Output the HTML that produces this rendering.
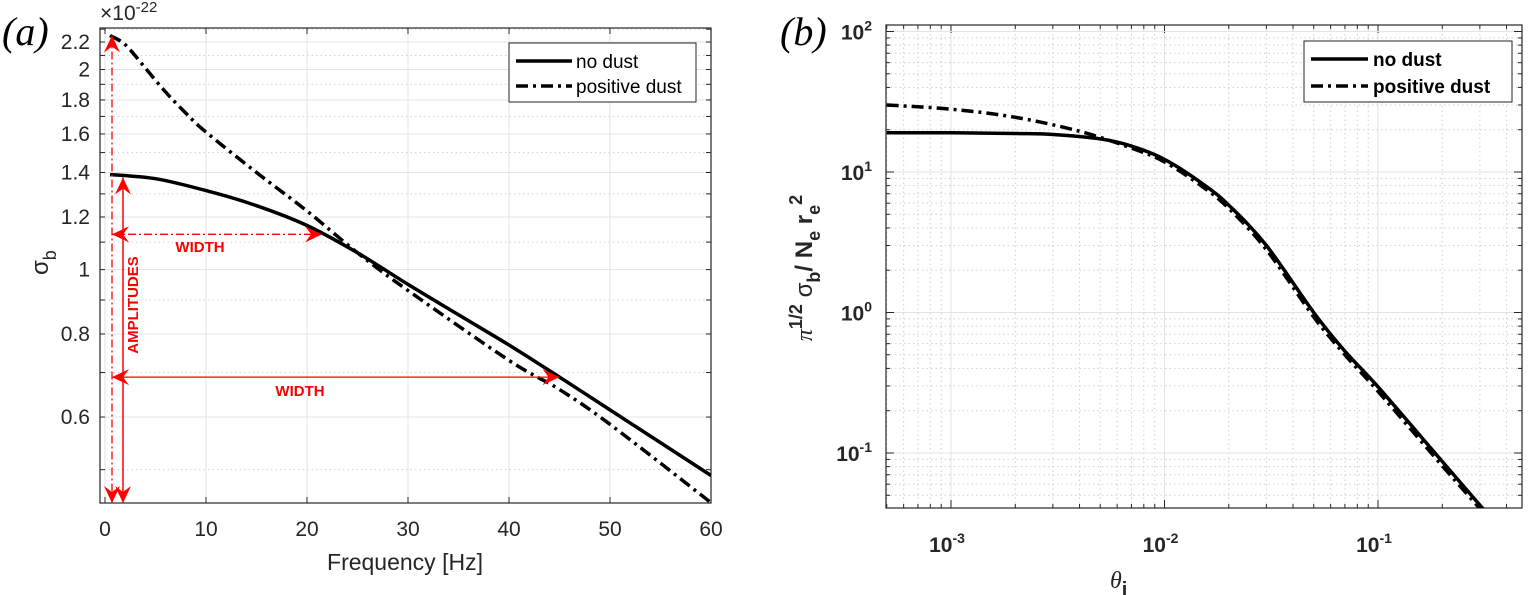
<!DOCTYPE html>
<html><head><meta charset="utf-8"><style>
body{margin:0;background:#fff}
svg{display:block;font-family:"Liberation Sans",sans-serif}
</style></head><body>
<svg id="s" width="1528" height="595" viewBox="0 0 1528 595">
<defs><clipPath id="cb"><rect x="886" y="25" width="636" height="483"/></clipPath>
<clipPath id="ca"><rect x="100" y="28" width="611" height="475"/></clipPath></defs>
<g id="ga"></g>
<g id="gb"></g>
</svg>
<script>
// Panel (a) data
const aFreqSolid=[0.5,5,10,15,20,25,30,35,40,45,50,60];
const aNoDust=[1.39,1.37,1.315,1.248,1.165,1.06,0.95,0.855,0.77,0.689,0.615,0.49];
const aFreqDash=[0.5,2,4,6,8,10,15,20,25,30,40,45,50,60];
const aPosDust=[2.25,2.18,2.01,1.85,1.72,1.61,1.40,1.225,1.06,0.93,0.73,0.66,0.585,0.446];
const aXTicks=[0,10,20,30,40,50,60];
const aYTicks=[0.6,0.8,1,1.2,1.4,1.6,1.8,2,2.2];
const aYTickLabels=["0.6","0.8","1","1.2","1.4","1.6","1.8","2","2.2"];
// Panel (b) data
const bTheta=[5e-4,1e-3,2e-3,3e-3,5e-3,7e-3,0.01,0.015,0.02,0.03,0.05,0.07,0.1,0.2,0.32];
const bNoDust=[19,19,18.8,18.5,17.2,15.3,12.3,8.3,5.8,3.0,1.0,0.53,0.296,0.087,0.038];
const bThetaD=[5e-4,1e-3,2e-3,4e-3,7e-3,0.01,0.015,0.02,0.03,0.05,0.07,0.1,0.2,0.31];
const bPosDust=[30,28,24.5,19.5,14.8,11.8,7.9,5.5,2.8,0.93,0.5,0.275,0.081,0.038];
const bXTicks=[-3,-2,-1];
const bYTicks=[-1,0,1,2];

const NS="http://www.w3.org/2000/svg";
function mk(p,t,at,txt){const e=document.createElementNS(NS,t);for(const k in at)e.setAttribute(k,at[k]);if(txt!==undefined)e.textContent=txt;p.appendChild(e);return e;}
function smooth(pts){let d='M'+pts[0][0].toFixed(1)+','+pts[0][1].toFixed(1);
 for(let i=0;i<pts.length-1;i++){const p0=pts[Math.max(0,i-1)],p1=pts[i],p2=pts[i+1],p3=pts[Math.min(pts.length-1,i+2)];
  const c1=[p1[0]+(p2[0]-p0[0])/6,p1[1]+(p2[1]-p0[1])/6],c2=[p2[0]-(p3[0]-p1[0])/6,p2[1]-(p3[1]-p1[1])/6];
  d+='C'+c1.map(v=>v.toFixed(1)).join(',')+' '+c2.map(v=>v.toFixed(1)).join(',')+' '+p2.map(v=>v.toFixed(1)).join(',');}
 return d;}

// ---- Panel a
const ga=document.getElementById('ga');
const AL=100,AR=711,AT=28,AB=503;
const ax=f=>105+(f)*(711-105)/60;
const ay=v=>269.6-Math.log10(v)*664.6;
for(let v=0.5;v<=2.31;v+=0.1){const isMaj=aYTicks.some(t=>Math.abs(t-v)<1e-6);
 const l=mk(ga,'line',{x1:AL,x2:AR,y1:ay(v),y2:ay(v),stroke:isMaj?'#e3e3e3':'#d0d0d0','stroke-width':1,'stroke-dasharray':isMaj?'':'1.5 3'});
 }
aXTicks.forEach(t=>{const l=mk(ga,'line',{x1:ax(t),x2:ax(t),y1:AT,y2:AB,stroke:'#e3e3e3'});
 });
const ab=mk(ga,'rect',{x:AL,y:AT,width:AR-AL,height:AB-AT,fill:'none',stroke:'#262626','stroke-width':1.2});

aXTicks.forEach(t=>{mk(ga,'line',{x1:ax(t),x2:ax(t),y1:AB,y2:AB-6,stroke:'#262626'});mk(ga,'line',{x1:ax(t),x2:ax(t),y1:AT,y2:AT+6,stroke:'#262626'});
 const tx=mk(ga,'text',{x:ax(t),y:536,'font-size':21,'text-anchor':'middle',fill:'#262626'},String(t));
 });
for(let v=0.5;v<=2.31;v+=0.1){mk(ga,'line',{x1:AL,x2:AL+5,y1:ay(v),y2:ay(v),stroke:'#262626'});mk(ga,'line',{x1:AR,x2:AR-5,y1:ay(v),y2:ay(v),stroke:'#262626'});}
aYTicks.forEach((t,i)=>{const tx=mk(ga,'text',{x:90,y:ay(t)+7,'font-size':21,'text-anchor':'end',fill:'#262626'},aYTickLabels[i]);
 });
const s1=mk(ga,'path',{d:smooth(aFreqSolid.map((x,i)=>[ax(x),ay(aNoDust[i])])),fill:'none',stroke:'#000','stroke-width':3.5,'clip-path':'url(#ca)'});

const s2=mk(ga,'path',{d:smooth(aFreqDash.map((x,i)=>[ax(x),ay(aPosDust[i])])),fill:'none',stroke:'#000','stroke-width':3.5,'stroke-dasharray':'12 5 3 5','clip-path':'url(#ca)'});

const red='#ff0000';
function arrowHead(x,y,dir){const s=13,w=8;let pts;
 if(dir==='up')pts=[[x,y],[x-w,y+s+4],[x,y+s-2],[x+w,y+s+4]];
 if(dir==='down')pts=[[x,y],[x-w,y-s-4],[x,y-s+2],[x+w,y-s-4]];
 if(dir==='left')pts=[[x,y],[x+s+4,y-w],[x+s-2,y],[x+s+4,y+w]];
 if(dir==='right')pts=[[x,y],[x-s-4,y-w],[x-s+2,y],[x-s-4,y+w]];
 const p=mk(ga,'polygon',{points:pts.map(q=>q.join(',')).join(' '),fill:red});
 }
const xd=112,xs=123;
mk(ga,'line',{x1:xd,x2:xd,y1:ay(2.25),y2:AB,stroke:red,'stroke-width':1.3,'stroke-dasharray':'8 3 2 3'});
arrowHead(xd,ay(2.25),'up');arrowHead(xd,AB,'down');
mk(ga,'line',{x1:xs,x2:xs,y1:ay(1.39)+3,y2:AB,stroke:red,'stroke-width':1.5});
arrowHead(xs,ay(1.39)+3,'up');arrowHead(xs,AB,'down');
mk(ga,'line',{x1:xd,x2:ax(21.5),y1:ay(1.13),y2:ay(1.13),stroke:red,'stroke-width':1.3,'stroke-dasharray':'8 3 2 3'});
arrowHead(xd,ay(1.13),'left');arrowHead(ax(21.5),ay(1.13),'right');
mk(ga,'line',{x1:xd,x2:ax(45),y1:ay(0.689),y2:ay(0.689),stroke:red,'stroke-width':1.3});
arrowHead(xd,ay(0.689),'left');arrowHead(ax(45),ay(0.689),'right');
let t=mk(ga,'text',{x:200,y:252,'font-size':15,'font-weight':'bold',fill:red,'text-anchor':'middle'},'WIDTH');
t=mk(ga,'text',{x:300,y:396,'font-size':15,'font-weight':'bold',fill:red,'text-anchor':'middle'},'WIDTH');
t=mk(ga,'text',{x:0,y:0,'font-size':15,'font-weight':'bold',fill:red,'text-anchor':'middle',transform:'translate(138,305) rotate(-90)'},'AMPLITUDES');
t=mk(ga,'text',{x:405,y:570,'font-size':23,'text-anchor':'middle',fill:'#262626'},'Frequency [Hz]');
t=mk(ga,'text',{x:0,y:0,'font-size':24,fill:'#262626',transform:'translate(48,275) rotate(-90)'});t.innerHTML='σ<tspan font-size="18" dy="8">b</tspan>';
t=mk(ga,'text',{x:100,y:20,'font-size':21,fill:'#262626'});t.innerHTML='×10<tspan font-size="15" dy="-8">-22</tspan>';
t=mk(ga,'text',{x:2,y:45,'font-size':40,'font-style':'italic','font-family':'Liberation Serif,serif',fill:'#000'},'(a)');
const lg=mk(ga,'g',{});
mk(lg,'rect',{x:509,y:43,width:187,height:59,fill:'#fff',stroke:'#262626'});
mk(lg,'line',{x1:516,x2:572,y1:61,y2:61,stroke:'#000','stroke-width':3.5});
mk(lg,'line',{x1:516,x2:572,y1:86,y2:86,stroke:'#000','stroke-width':3.5,'stroke-dasharray':'12 5 3 5'});
mk(lg,'text',{x:576,y:68,'font-size':19,fill:'#000'},'no dust');
mk(lg,'text',{x:576,y:93,'font-size':19,fill:'#000'},'positive dust');

// ---- Panel b
const gb=document.getElementById('gb');
const BL=886,BR=1522,BT=25,BB=508;
const bx=th=>951+(Math.log10(th)+3)*213.5;
const by=v=>172-(Math.log10(v)-1)*140.5;
for(let d=-4;d<=0;d++)for(let m=1;m<=9;m++){const v=m*Math.pow(10,d);const x=bx(v);if(x<BL-0.5||x>BR+0.5)continue;
 const l=mk(gb,'line',{x1:x,x2:x,y1:BT,y2:BB,stroke:m===1?'#e3e3e3':'#d0d0d0','stroke-dasharray':m===1?'':'1.5 3'});
 mk(gb,'line',{x1:x,x2:x,y1:BB,y2:BB-(m===1?8:4),stroke:'#262626'});mk(gb,'line',{x1:x,x2:x,y1:BT,y2:BT+(m===1?8:4),stroke:'#262626'});}
for(let d=-2;d<=2;d++)for(let m=1;m<=9;m++){const v=m*Math.pow(10,d);const y=by(v);if(y<BT-0.5||y>BB+0.5)continue;
 const l=mk(gb,'line',{x1:BL,x2:BR,y1:y,y2:y,stroke:m===1?'#e3e3e3':'#d0d0d0','stroke-dasharray':m===1?'':'1.5 3'});
 mk(gb,'line',{x1:BL,x2:BL+(m===1?8:4),y1:y,y2:y,stroke:'#262626'});mk(gb,'line',{x1:BR,x2:BR-(m===1?8:4),y1:y,y2:y,stroke:'#262626'});}
const bb=mk(gb,'rect',{x:BL,y:BT,width:BR-BL,height:BB-BT,fill:'none',stroke:'#262626','stroke-width':1.2});

bXTicks.forEach(e=>{const tx=mk(gb,'text',{x:bx(Math.pow(10,e))-4,y:552,'font-size':21,'font-weight':'bold','text-anchor':'middle',fill:'#262626'});
 tx.innerHTML='10<tspan font-size="14" dy="-9">'+e+'</tspan>';});
bYTicks.forEach(e=>{const tx=mk(gb,'text',{x:872,y:by(Math.pow(10,e))+8,'font-size':21,'font-weight':'bold','text-anchor':'end',fill:'#262626'});
 tx.innerHTML='10<tspan font-size="14" dy="-9">'+e+'</tspan>';});
const b1=mk(gb,'path',{d:smooth(bTheta.map((x,i)=>[bx(x),by(bNoDust[i])])),fill:'none',stroke:'#000','stroke-width':3.5,'clip-path':'url(#cb)'});

const b2=mk(gb,'path',{d:smooth(bThetaD.map((x,i)=>[bx(x),by(bPosDust[i])])),fill:'none',stroke:'#000','stroke-width':3.5,'stroke-dasharray':'12 5 3 5','clip-path':'url(#cb)'});

t=mk(gb,'text',{x:1110,y:588,'font-size':24,'font-style':'italic','font-family':'Liberation Serif,serif',fill:'#262626'});t.innerHTML='θ<tspan font-size="20" dy="8" font-style="normal" font-weight="bold" font-family="Liberation Sans">i</tspan>';

t=mk(gb,'text',{x:0,y:0,'font-size':24,'font-weight':'bold',fill:'#262626','text-anchor':'middle',transform:'translate(812,268) rotate(-90)'});
t.innerHTML='<tspan font-weight="normal" font-style="italic" font-family="Liberation Serif">π</tspan><tspan font-size="18" dy="-10">1/2</tspan><tspan dy="10" font-weight="normal"> σ</tspan><tspan font-size="18" dy="8">b</tspan><tspan dy="-8">/ N</tspan><tspan font-size="18" dy="8">e</tspan><tspan dy="-8"> r</tspan><tspan font-size="18" dy="8">e</tspan><tspan font-size="18" dy="-18">2</tspan>';

t=mk(gb,'text',{x:780,y:45,'font-size':40,'font-style':'italic','font-family':'Liberation Serif,serif',fill:'#000'},'(b)');
const lb=mk(gb,'g',{});
mk(lb,'rect',{x:1304,y:41,width:208,height:61,fill:'#fff',stroke:'#262626'});
mk(lb,'line',{x1:1311,x2:1368,y1:59,y2:59,stroke:'#000','stroke-width':3.5});
mk(lb,'line',{x1:1311,x2:1368,y1:86,y2:86,stroke:'#000','stroke-width':3.5,'stroke-dasharray':'12 5 3 5'});
mk(lb,'text',{x:1373,y:66,'font-size':19,'font-weight':'bold',fill:'#000'},'no dust');
mk(lb,'text',{x:1373,y:93,'font-size':19,'font-weight':'bold',fill:'#000'},'positive dust');
</script>
</body></html>
